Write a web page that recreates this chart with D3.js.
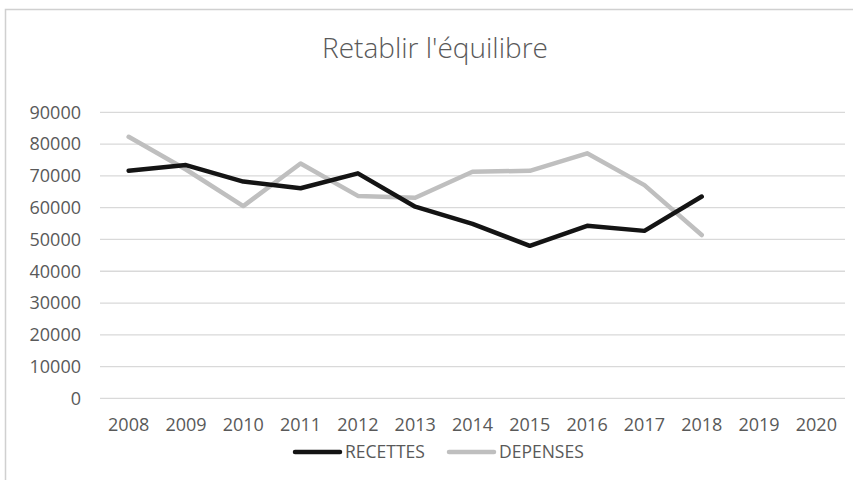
<!DOCTYPE html>
<html>
   <head>
      <meta charset="utf-8" />
      <title>Retablir l'équilibre</title>
      <script src="https://cdn.jsdelivr.net/npm/d3@7/dist/d3.min.js"></script>
   </head>
   <style>
      body {
         margin: 0px;
         overflow: hidden;
         background: #fff;
      }

      text {
         font-family: "Open Sans", sans-serif;
         fill: #595959;
      }

      .grid line {
         stroke: #d9d9d9;
         stroke-width: 1.3;
      }
   </style>
   <body>
      <svg width="853" height="480"></svg>
      <script>
         const years = ["2008", "2009", "2010", "2011", "2012", "2013", "2014",
            "2015", "2016", "2017", "2018", "2019", "2020"];
         const recettes = [71600, 73400, 68200, 66100, 70800, 60300, 54900,
            48000, 54300, 52700, 63500];
         const depenses = [82300, 72000, 60500, 73900, 63700, 63100, 71300,
            71600, 77100, 67100, 51400];
         const yTicks = [0, 10000, 20000, 30000, 40000, 50000, 60000, 70000, 80000, 90000];

         const svg = d3.select("svg");

         // chart frame
         svg.append("rect")
            .attr("x", 5.5)
            .attr("y", 9.5)
            .attr("width", 900)
            .attr("height", 520)
            .attr("fill", "#fff")
            .attr("stroke", "#d0d0d0")
            .attr("stroke-width", 1.5);

         svg.append("text")
            .attr("x", 435)
            .attr("y", 58)
            .attr("text-anchor", "middle")
            .style("font-size", "28px")
            .style("font-weight", 300)
            .text("Retablir l'équilibre");

         const x = d3.scaleBand().domain(years).range([100, 845]);
         const y = d3.scaleLinear().domain([0, 90000]).range([398.4, 112.3]);

         const grid = svg.append("g").attr("class", "grid");
         grid.selectAll("line")
            .data(yTicks)
            .enter()
            .append("line")
            .attr("x1", 100)
            .attr("x2", 845)
            .attr("y1", (d) => y(d))
            .attr("y2", (d) => y(d));

         svg.selectAll(".ylab")
            .data(yTicks)
            .enter()
            .append("text")
            .attr("class", "ylab")
            .attr("x", 81)
            .attr("y", (d) => y(d))
            .attr("dy", "0.35em")
            .attr("text-anchor", "end")
            .style("font-size", "18px")
            .text((d) => d);

         svg.selectAll(".xlab")
            .data(years)
            .enter()
            .append("text")
            .attr("class", "xlab")
            .attr("x", (d) => x(d) + x.bandwidth() / 2)
            .attr("y", 425)
            .attr("dy", "0.35em")
            .attr("text-anchor", "middle")
            .style("font-size", "18px")
            .text((d) => d);

         const line = d3.line()
            .x((d, i) => x(years[i]) + x.bandwidth() / 2)
            .y((d) => y(d));

         svg.append("path")
            .attr("d", line(depenses))
            .attr("fill", "none")
            .attr("stroke", "#bfbfbf")
            .attr("stroke-width", 4.5)
            .attr("stroke-linejoin", "round")
            .attr("stroke-linecap", "round");

         svg.append("path")
            .attr("d", line(recettes))
            .attr("fill", "none")
            .attr("stroke", "#141414")
            .attr("stroke-width", 4.5)
            .attr("stroke-linejoin", "round")
            .attr("stroke-linecap", "round");

         // legend
         const legend = [
            { name: "RECETTES", color: "#141414", x: 295 },
            { name: "DEPENSES", color: "#bfbfbf", x: 449 }
         ];
         const lg = svg.selectAll(".legend")
            .data(legend)
            .enter()
            .append("g")
            .attr("class", "legend")
            .attr("transform", (d) => "translate(" + d.x + ",452)");
         lg.append("line")
            .attr("x1", 0)
            .attr("x2", 45)
            .attr("stroke", (d) => d.color)
            .attr("stroke-width", 4.5)
            .attr("stroke-linecap", "round");
         lg.append("text")
            .attr("x", 50)
            .attr("dy", "0.35em")
            .style("font-size", "17.5px")
            .text((d) => d.name);
      </script>
   </body>
</html>
